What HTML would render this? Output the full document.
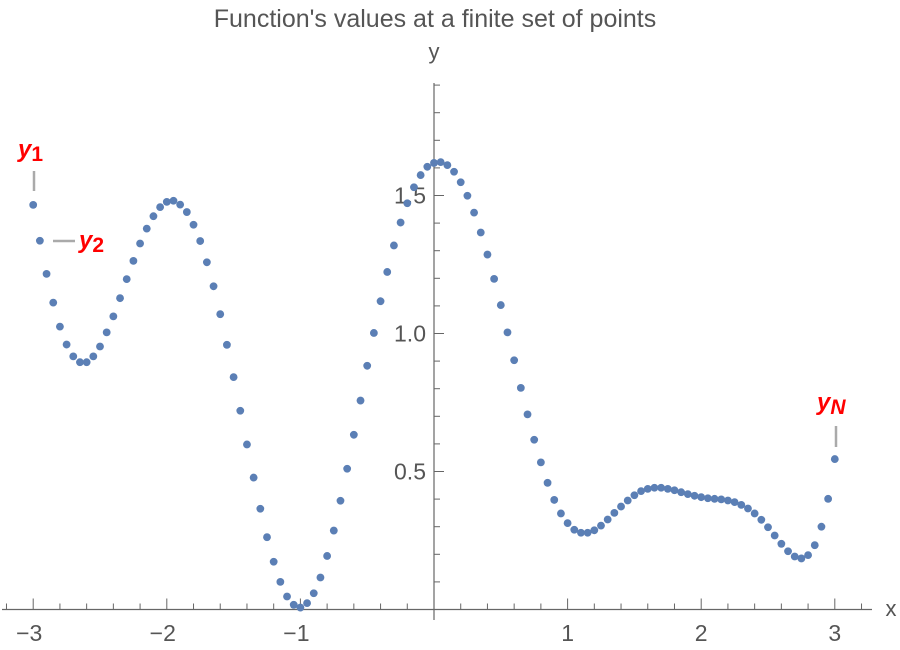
<!DOCTYPE html>
<html><head><meta charset="utf-8"><style>
html,body{margin:0;padding:0;background:#fff;}
svg text{font-family:"Liberation Sans",sans-serif;}
</style></head><body>
<svg id="chart" width="900" height="645" xmlns="http://www.w3.org/2000/svg">
<text x="435" y="27" text-anchor="middle" font-size="25" fill="#555">Function's values at a finite set of points</text>
<g id="axes"></g>
<g id="points"></g>
<g>
<line x1="34" y1="171" x2="34" y2="191" stroke="#aaa" stroke-width="2.5"/>
<text x="18" y="157" fill="#f00" font-size="24" font-weight="bold" font-style="italic">y<tspan font-size="21" dy="4" font-style="normal">1</tspan></text>
<line x1="53" y1="241" x2="75" y2="241" stroke="#aaa" stroke-width="2.5"/>
<text x="79" y="248" fill="#f00" font-size="24" font-weight="bold" font-style="italic">y<tspan font-size="21" dy="4" font-style="normal">2</tspan></text>
<line x1="836" y1="426" x2="836" y2="447" stroke="#aaa" stroke-width="2.5"/>
<text x="817" y="410" fill="#f00" font-size="24" font-weight="bold" font-style="italic">y<tspan font-size="21" dy="4">N</tspan></text>
</g>
</svg>
<script>
const xStart = -3, xStep = 0.05;
const yValues = [1.466,1.336,1.216,1.112,1.025,0.960,0.917,0.896,0.896,0.917,0.953,1.004,1.062,1.128,1.197,1.263,1.326,1.380,1.425,1.458,1.477,1.481,1.467,1.440,1.394,1.335,1.258,1.171,1.070,0.959,
0.842,0.720,0.598,0.478,0.365,0.262,0.173,0.100,0.047,0.017,0.007,0.023,0.059,0.116,0.194,0.286,0.394,0.510,0.633,0.757,0.883,1.002,1.117,1.223,
1.319,1.402,1.472,1.530,1.574,1.604,1.618,1.621,1.610,1.586,1.548,1.499,1.438,1.366,1.286,1.198,1.103,1.004,0.903,0.803,0.707,0.615,0.533,0.459,0.397,0.348,
0.313,0.289,0.278,0.278,0.287,0.304,0.326,0.350,0.373,0.395,0.414,0.429,0.437,0.441,0.441,0.437,0.432,0.425,0.418,0.412,0.407,0.403,0.401,0.399,0.395,0.389,0.379,0.366,0.348,0.325,0.298,0.268,0.238,0.211,0.192,0.185,0.197,0.233,0.300,0.401,0.545];
const xTickLabels = [-3,-2,-1,1,2,3];
const yTickLabels = [0.5,1.0,1.5];

const NS="http://www.w3.org/2000/svg";
const X = v => 434 + v*133.6;
const Y = v => 609.5 - v*276;
function mk(tag, attrs, parent){const e=document.createElementNS(NS,tag);for(const k in attrs)e.setAttribute(k,attrs[k]);parent.appendChild(e);return e;}
const axes=document.getElementById('axes'), pts=document.getElementById('points');
const axc="#666";
let l=mk('line',{x1:2,y1:Y(0),x2:872,y2:Y(0),stroke:axc,'stroke-width':1.2},axes);


l=mk('line',{x1:434,y1:83,x2:434,y2:620,stroke:axc,'stroke-width':1.2},axes);


for(let i=-16;i<=16;i++){const v=i*0.2;const major=i%5===0;const x=X(v);
 const t=mk('line',{x1:x,y1:Y(0),x2:x,y2:Y(0)-(major?11:6),stroke:axc,'stroke-width':1},axes);
 
 }
for(let i=1;i<=19;i++){const v=i*0.1;const major=i%5===0;const y=Y(v);
 const t=mk('line',{x1:434,y1:y,x2:434+(major?10:6),y2:y,stroke:axc,'stroke-width':1},axes);
 
 }
xTickLabels.forEach(v=>{const t=mk('text',{x:X(v)-(v<0?4:0),y:641,'text-anchor':'middle','font-size':23,fill:'#555'},axes);t.textContent=(v<0?'\u2212'+(-v):v);
 
 });
yTickLabels.forEach(v=>{const t=mk('text',{x:426,y:Y(v)+8,'text-anchor':'end','font-size':23,fill:'#555'},axes);t.textContent=v.toFixed(1);
 
 });
let t=mk('text',{x:434,y:59,'text-anchor':'middle','font-size':22,fill:'#555'},axes);t.textContent='y';


t=mk('text',{x:891,y:616,'text-anchor':'middle','font-size':22,fill:'#555'},axes);t.textContent='x';


yValues.forEach((v,i)=>{const c=mk('circle',{cx:X(xStart+i*xStep),cy:Y(v),r:3.9,fill:'#5b7fb5'},pts);
 
 });
</script>
</body></html>
